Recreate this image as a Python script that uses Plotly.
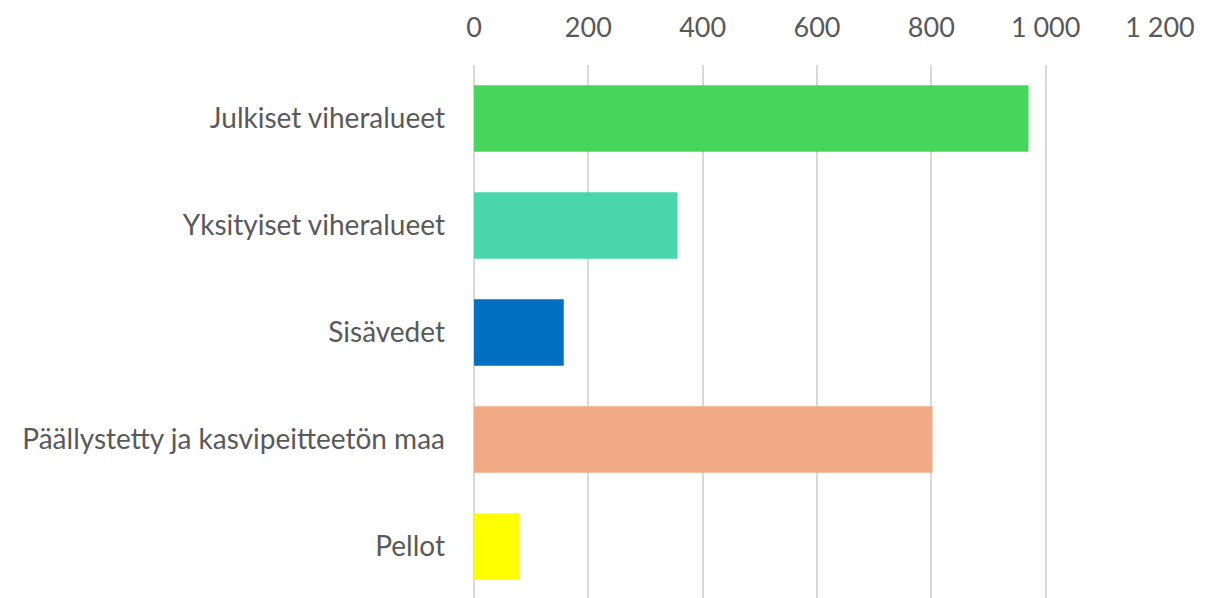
import plotly.graph_objects as go

categories = ["Julkiset viheralueet", "Yksityiset viheralueet", "Sisävedet",
              "Päällystetty ja kasvipeitteetön maa", "Pellot"]
values = [970, 356, 157, 802, 80]
colors = ["#47D65C", "#4AD6AB", "#0070C0", "#F0AA86", "#FFFF00"]
tick_vals = [0, 200, 400, 600, 800, 1000, 1200]
tick_text = ["0", "200", "400", "600", "800", "1 000", "1 200"]

fig = go.Figure(go.Bar(
    x=values, y=categories, orientation="h",
    marker=dict(color=colors, line=dict(width=0)),
))

# the page body adds 8px, margins take that into account
fig.update_layout(
    width=1219, height=598,
    margin=dict(l=466, r=67, t=57, b=6, autoexpand=False),
    plot_bgcolor="white", paper_bgcolor="white",
    bargap=0.38,
    showlegend=False,
    font=dict(family="Lato", color="#595959", size=28),
)
fig.update_xaxes(
    side="top", range=[0, 1200],
    tickvals=tick_vals, ticktext=tick_text,
    showgrid=True, gridcolor="#D9D9D9", gridwidth=2,
    zeroline=True, zerolinecolor="#D9D9D9", zerolinewidth=2,
    showline=False, ticklabelstandoff=22, automargin=False,
    tickfont=dict(size=27),
)
fig.update_yaxes(
    autorange="reversed", showgrid=False, showline=False,
    ticklabelstandoff=28, automargin=False, tickfont=dict(size=28),
)

fig.write_html("out.html")
